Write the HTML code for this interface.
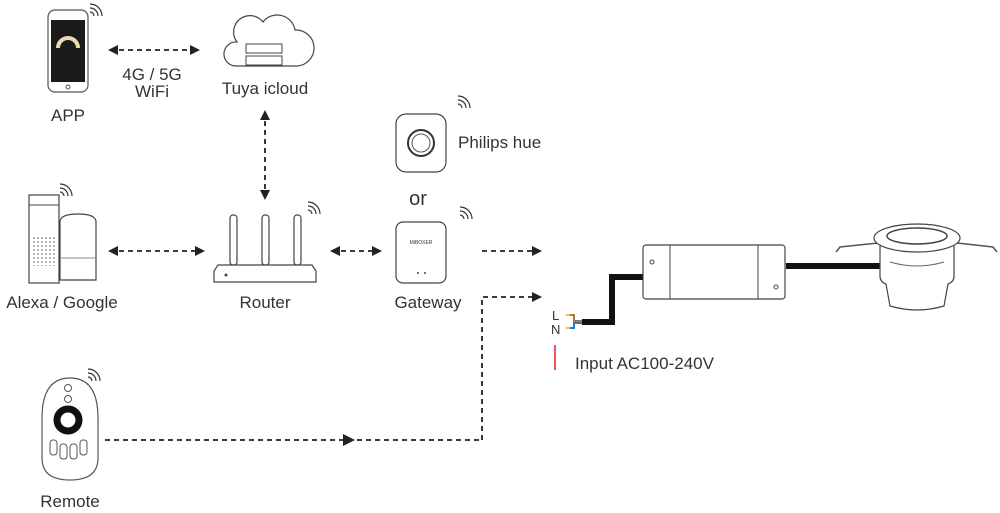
<!DOCTYPE html>
<html><head><meta charset="utf-8"><style>
html,body{margin:0;padding:0;background:#fff;}
svg{display:block;}
text{font-family:"Liberation Sans",sans-serif;fill:#333;font-size:17px;}
</style></head><body>
<svg width="1000" height="513" viewBox="0 0 1000 513" xmlns="http://www.w3.org/2000/svg">
<defs>
<marker id="ah" markerWidth="10" markerHeight="10" refX="8" refY="5" orient="auto-start-reverse" markerUnits="userSpaceOnUse"><path d="M0,0 L10,5 L0,10 z" fill="#222"/></marker>
<g id="wifi" fill="none" stroke="#333" stroke-width="1.2"><path d="M0,6 a4,4 0 0 0 -4,-4"/><path d="M4,6 a8,8 0 0 0 -8,-8"/><path d="M8,6 a12,12 0 0 0 -12,-12"/></g>
<pattern id="dots" width="4" height="4" patternUnits="userSpaceOnUse"><circle cx="2" cy="2" r="0.8" fill="#555"/></pattern>
</defs>
<g stroke="#222" stroke-width="1.8" stroke-dasharray="5,4" fill="none">
<line x1="110" y1="50" x2="198" y2="50" marker-start="url(#ah)" marker-end="url(#ah)"/>
<line x1="265" y1="112" x2="265" y2="198" marker-start="url(#ah)" marker-end="url(#ah)"/>
<line x1="110" y1="251" x2="203" y2="251" marker-start="url(#ah)" marker-end="url(#ah)"/>
<line x1="332" y1="251" x2="380" y2="251" marker-start="url(#ah)" marker-end="url(#ah)"/>
<line x1="482" y1="251" x2="540" y2="251" marker-end="url(#ah)"/>
<polyline points="482,440 482,297 540,297" marker-end="url(#ah)"/>
<line x1="105" y1="440" x2="482" y2="440"/>
</g>
<path d="M343,434 L355,440 L343,446 z" fill="#222"/>
<!-- phone -->
<rect x="48" y="10" width="40" height="82" rx="7" fill="#fff" stroke="#555" stroke-width="1.2"/>
<rect x="51" y="20" width="34" height="62" fill="#1a1a1a"/>
<path d="M58,48 a10,10 0 1 1 20,0" fill="none" stroke="#e8dcae" stroke-width="4"/>
<circle cx="68" cy="87" r="2" fill="none" stroke="#555"/>
<use href="#wifi" x="94" y="10"/>
<text x="68" y="121" text-anchor="middle">APP</text>
<text x="152" y="80" text-anchor="middle">4G / 5G</text>
<text x="152" y="97" text-anchor="middle">WiFi</text>
<!-- cloud -->
<path d="M235,66 a12,12 0 0 1 2,-24 a16,16 0 0 1 26,-20 a18,18 0 0 1 32,8 a14,14 0 0 1 2,36 z" fill="#fff" stroke="#444" stroke-width="1.2"/>
<rect x="246" y="44" width="36" height="9" fill="none" stroke="#444"/>
<rect x="246" y="56" width="36" height="9" fill="none" stroke="#444"/>
<text x="265" y="94" text-anchor="middle">Tuya icloud</text>
<!-- alexa -->
<rect x="29" y="195" width="30" height="88" fill="#fff" stroke="#444" stroke-width="1.2"/>
<rect x="29" y="195" width="30" height="10" fill="none" stroke="#444"/>
<rect x="33" y="236" width="22" height="30" fill="url(#dots)"/>
<path d="M60,222 q0,-8 18,-8 q18,0 18,8 v58 h-36 z" fill="#fff" stroke="#444" stroke-width="1.2"/>
<line x1="60" y1="258" x2="96" y2="258" stroke="#888"/>
<use href="#wifi" x="64" y="190"/>
<text x="62" y="308" text-anchor="middle">Alexa / Google</text>
<!-- router -->
<rect x="230" y="215" width="7" height="50" rx="3" fill="#fff" stroke="#444" stroke-width="1.2"/>
<rect x="262" y="215" width="7" height="50" rx="3" fill="#fff" stroke="#444" stroke-width="1.2"/>
<rect x="294" y="215" width="7" height="50" rx="3" fill="#fff" stroke="#444" stroke-width="1.2"/>
<path d="M218,265 h94 l4,6 v11 h-102 v-11 z" fill="#fff" stroke="#444" stroke-width="1.2"/>
<circle cx="226" cy="275" r="1.5" fill="#444"/>
<use href="#wifi" x="312" y="208"/>
<text x="265" y="308" text-anchor="middle">Router</text>
<!-- philips -->
<rect x="396" y="114" width="50" height="58" rx="10" fill="#fff" stroke="#444" stroke-width="1.2"/>
<circle cx="421" cy="143" r="13" fill="none" stroke="#333" stroke-width="2"/>
<circle cx="421" cy="143" r="9" fill="none" stroke="#555"/>
<use href="#wifi" x="462" y="102"/>
<text x="458" y="148">Philips hue</text>
<text x="418" y="205" text-anchor="middle" style="font-size:20px">or</text>
<!-- gateway -->
<rect x="396" y="222" width="50" height="61" rx="7" fill="#fff" stroke="#444" stroke-width="1.2"/>
<text x="421" y="244" text-anchor="middle" style="font-size:5px">MiBOXER</text>
<circle cx="418" cy="273" r="1" fill="#444"/><circle cx="425" cy="273" r="1" fill="#444"/>
<use href="#wifi" x="464" y="213"/>
<text x="428" y="308" text-anchor="middle">Gateway</text>
<!-- driver & cable -->
<polyline points="582,322 612,322 612,277 645,277" fill="none" stroke="#111" stroke-width="6"/>
<line x1="786" y1="266" x2="892" y2="266" stroke="#111" stroke-width="6"/>
<rect x="643" y="245" width="142" height="54" rx="3" fill="#fff" stroke="#444" stroke-width="1.2"/>
<line x1="670" y1="245" x2="670" y2="299" stroke="#444"/>
<line x1="758" y1="245" x2="758" y2="299" stroke="#444"/>
<circle cx="652" cy="262" r="2" fill="none" stroke="#444"/>
<circle cx="776" cy="287" r="2" fill="none" stroke="#444"/>
<path d="M566,315 h8 v6 h8" fill="none" stroke="#b87333" stroke-width="2"/>
<path d="M566,328 h8 v-5 h8" fill="none" stroke="#2a7bd0" stroke-width="2"/>
<path d="M566,315 h4 M566,328 h4" stroke="#e8c050" stroke-width="2"/>
<text x="552" y="320" style="font-size:13px">L</text>
<text x="551" y="334" style="font-size:13px">N</text>
<line x1="555" y1="345" x2="555" y2="370" stroke="#e0202a" stroke-width="1.5"/>
<text x="575" y="369">Input AC100-240V</text>
<!-- lamp -->
<path d="M836,252 l4,-5 l38,-4 M997,252 l-4,-5 l-36,-4" stroke="#555" stroke-width="1.5" fill="none"/>
<path d="M880,246 v30 q0,6 6,8 l4,22 q27,8 54,0 l4,-22 q6,-2 6,-8 v-30" fill="#fff" stroke="#444" stroke-width="1.2"/>
<path d="M890,262 q27,8 54,0" fill="none" stroke="#666"/>
<ellipse cx="917" cy="238" rx="43" ry="14" fill="#fff" stroke="#444" stroke-width="1.2"/>
<ellipse cx="917" cy="236" rx="30" ry="8" fill="none" stroke="#444" stroke-width="1.5"/>
<!-- remote -->
<path d="M70,378 q28,0 28,40 v40 q0,22 -28,22 q-28,0 -28,-22 v-40 q0,-40 28,-40 z" fill="#fff" stroke="#555" stroke-width="1.2"/>
<circle cx="68" cy="388" r="3.5" fill="none" stroke="#555"/>
<circle cx="68" cy="399" r="3.5" fill="none" stroke="#555"/>
<circle cx="68" cy="420" r="11" fill="none" stroke="#111" stroke-width="7"/>
<g fill="none" stroke="#555"><rect x="50" y="440" width="7" height="15" rx="3"/><rect x="60" y="444" width="7" height="15" rx="3"/><rect x="70" y="444" width="7" height="15" rx="3"/><rect x="80" y="440" width="7" height="15" rx="3"/></g>
<use href="#wifi" x="92" y="375"/>
<text x="70" y="507" text-anchor="middle">Remote</text>
</svg>
</body></html>
